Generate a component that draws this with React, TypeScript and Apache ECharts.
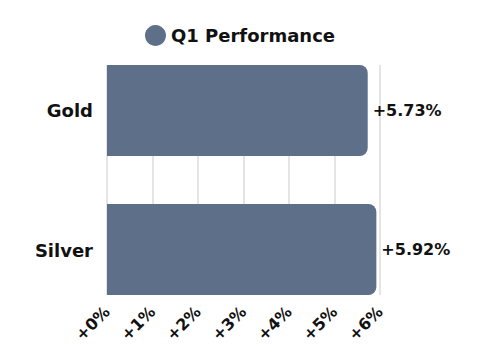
import React, { useEffect, useRef } from "react";
import * as echarts from "echarts";

const categories = ["Gold", "Silver"];
const values = [5.73, 5.92];
const seriesName = "Q1 Performance";
const xTicks = [0, 1, 2, 3, 4, 5, 6];

const FONT = "'DejaVu Sans', sans-serif";
const BAR_COLOR = "#5e7089";
const TEXT = "#111111";

export default function App() {
  const ref = useRef<HTMLDivElement>(null);
  useEffect(() => {
    if (!ref.current) return;
    const chart = echarts.init(ref.current, null, { renderer: "svg" });
    const labelStyle = {
      show: true,
      position: "right",
      distance: 5,
      fontFamily: FONT,
      fontWeight: 700,
      fontSize: 16,
      color: TEXT,
      formatter: (p: any) => `+${Number(p.value).toFixed(2)}%`,
    };
    // one bar per category, both belonging to the same legend entry
    const seriesData = categories.map((_, i) => values.map((v, j) => (i === j ? v : "-")));
    chart.setOption({
      animation: false,
      backgroundColor: "#ffffff",
      legend: {
        data: [seriesName],
        top: 20,
        left: "center",
        icon: "circle",
        itemWidth: 21,
        itemHeight: 21,
        itemGap: 8,
        textStyle: { fontFamily: FONT, fontWeight: 700, fontSize: 18, color: TEXT },
      },
      grid: { left: 107, right: 100, top: 65, bottom: 59, containLabel: false },
      xAxis: {
        type: "value",
        min: xTicks[0],
        max: xTicks[xTicks.length - 1],
        interval: 1,
        axisLine: { show: false },
        axisTick: { show: false },
        splitLine: { show: true, lineStyle: { color: "#dcdcdc", width: 1.5 } },
        axisLabel: {
          rotate: 45,
          margin: 14,
          fontFamily: FONT,
          fontWeight: 700,
          fontSize: 16,
          color: TEXT,
          formatter: (v: number) => `+${v}%`,
        },
      },
      yAxis: {
        type: "category",
        data: categories,
        inverse: true,
        axisLine: { show: false },
        axisTick: { show: false },
        splitLine: { show: false },
        axisLabel: {
          margin: 14,
          fontFamily: FONT,
          fontWeight: 700,
          fontSize: 18,
          color: TEXT,
          formatter: (v: string) => (v === categories[0] ? `{a|${v}}` : `{b|${v}}`),
          rich: {
            a: { fontFamily: FONT, fontWeight: 700, fontSize: 18, color: TEXT, padding: [0, 0, 24, 0] },
            b: { fontFamily: FONT, fontWeight: 700, fontSize: 18, color: TEXT, padding: [25, 0, 0, 0] },
          },
        },
      },
      series: seriesData.map((d) => ({
        name: seriesName,
        type: "bar",
        data: d,
        barWidth: 91,
        barGap: "-73.6%",
        itemStyle: { color: BAR_COLOR, borderRadius: [0, 8, 8, 0] },
        label: labelStyle,
      })),
    });
    return () => chart.dispose();
  }, []);
  return (
    <div
      ref={ref}
      style={{ position: "absolute", left: 0, top: 0, width: 480, height: 354 }}
    />
  );
}
